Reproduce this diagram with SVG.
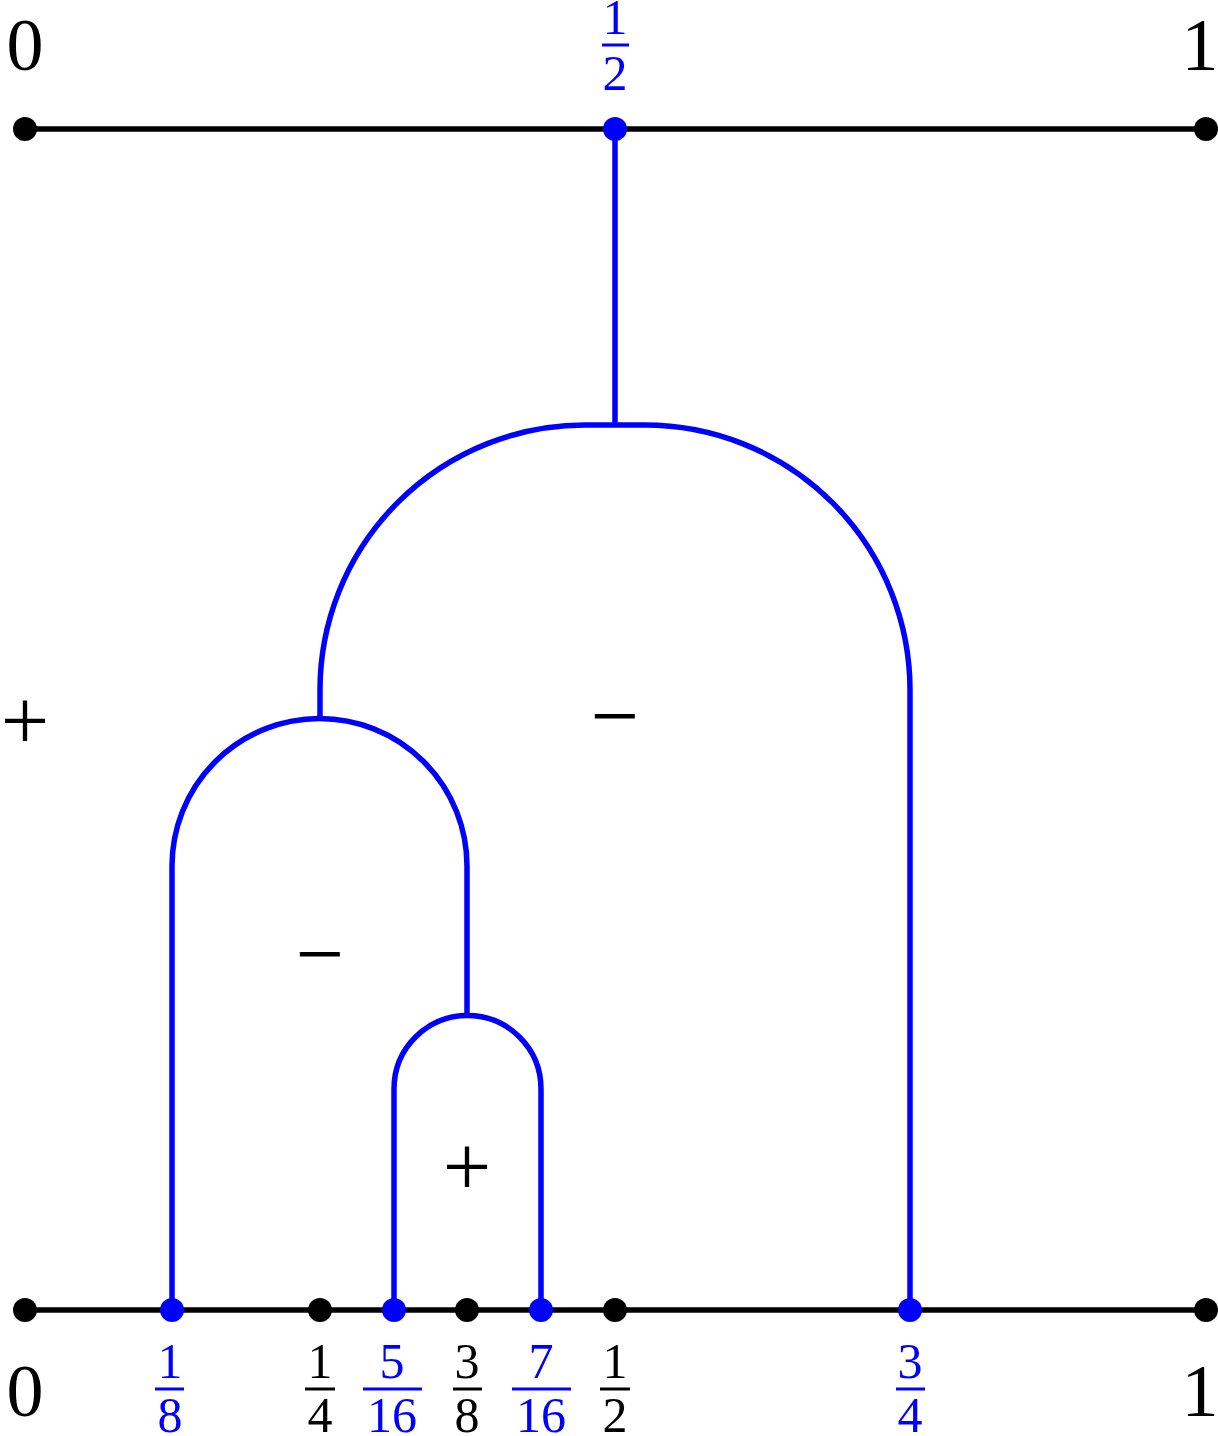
<svg xmlns="http://www.w3.org/2000/svg" width="1218" height="1436" viewBox="0 0 1218 1436">
<style>
.ax{stroke:#000;stroke-width:5.5;fill:none}
.bl{stroke:#00f;stroke-width:5.5;fill:none}
.dk{fill:#000}
.db{fill:#00f}
text{font-family:"Liberation Serif","DejaVu Serif",serif;text-anchor:middle}
.big{font-size:74px}
.fr{font-size:50px}
.sg{font-size:86px}
.tb{fill:#00f}
.tk{fill:#000}
.barb{stroke:#00f;stroke-width:3}
.bark{stroke:#000;stroke-width:3}
</style>
<g id="axes">
<line class="ax" x1="25" y1="129" x2="1206" y2="129"/>
<line class="ax" x1="25" y1="1310" x2="1206" y2="1310"/>
</g>
<g id="connectors">
<path class="bl" d="M615,129 V425"/>
<path class="bl" d="M320,720 V690 A265,265 0 0 1 585,425 H645 A265,265 0 0 1 910,690 V1310"/>
<path class="bl" d="M172,1310 V866 A147.5,147.5 0 0 1 467,866 V1016"/>
<path class="bl" d="M394,1310 V1089 A73.5,73.5 0 0 1 541,1089 V1310"/>
</g>
<g id="dots">
<circle class="dk" cx="25" cy="129" r="12"/>
<circle class="db" cx="615" cy="129" r="12"/>
<circle class="dk" cx="1206" cy="129" r="12"/>
<circle class="dk" cx="25" cy="1310" r="12"/>
<circle class="db" cx="172" cy="1310" r="12"/>
<circle class="dk" cx="320" cy="1310" r="12"/>
<circle class="db" cx="394" cy="1310" r="12"/>
<circle class="dk" cx="467" cy="1310" r="12"/>
<circle class="db" cx="541" cy="1310" r="12"/>
<circle class="dk" cx="615" cy="1310" r="12"/>
<circle class="db" cx="910" cy="1310" r="12"/>
<circle class="dk" cx="1206" cy="1310" r="12"/>
</g>
<g id="labels-top">
<text class="big tk" x="25" y="70">0</text>
<text class="big tk" x="1200" y="70">1</text>
<g id="half-top"><text class="fr tb" x="615" y="34">1</text><line class="barb" x1="602" y1="45" x2="629" y2="45"/><text class="fr tb" x="615" y="90">2</text></g>
</g>
<g id="labels-bottom">
<text class="big tk" x="25" y="1416">0</text>
<text class="big tk" x="1200" y="1416">1</text>
<g id="f18"><text class="fr tb" x="170" y="1378">1</text><line class="barb" x1="155" y1="1389" x2="184" y2="1389"/><text class="fr tb" x="170" y="1432">8</text></g>
<g id="f14"><text class="fr tk" x="320" y="1378">1</text><line class="bark" x1="305" y1="1389" x2="335" y2="1389"/><text class="fr tk" x="320" y="1432">4</text></g>
<g id="f516"><text class="fr tb" x="392" y="1378">5</text><line class="barb" x1="363" y1="1389" x2="422" y2="1389"/><text class="fr tb" x="392" y="1432">16</text></g>
<g id="f38"><text class="fr tk" x="467" y="1378">3</text><line class="bark" x1="453" y1="1389" x2="482" y2="1389"/><text class="fr tk" x="467" y="1432">8</text></g>
<g id="f716"><text class="fr tb" x="541" y="1378">7</text><line class="barb" x1="512" y1="1389" x2="571" y2="1389"/><text class="fr tb" x="541" y="1432">16</text></g>
<g id="f12"><text class="fr tk" x="615" y="1378">1</text><line class="bark" x1="600" y1="1389" x2="630" y2="1389"/><text class="fr tk" x="615" y="1432">2</text></g>
<g id="f34"><text class="fr tb" x="910" y="1378">3</text><line class="barb" x1="896" y1="1389" x2="925" y2="1389"/><text class="fr tb" x="910" y="1432">4</text></g>
</g>
<g id="signs">
<text class="sg tk" x="25" y="750">+</text>
<text class="sg tk" x="615" y="745">−</text>
<text class="sg tk" x="320" y="983">−</text>
<text class="sg tk" x="467" y="1196">+</text>
</g>
</svg>
